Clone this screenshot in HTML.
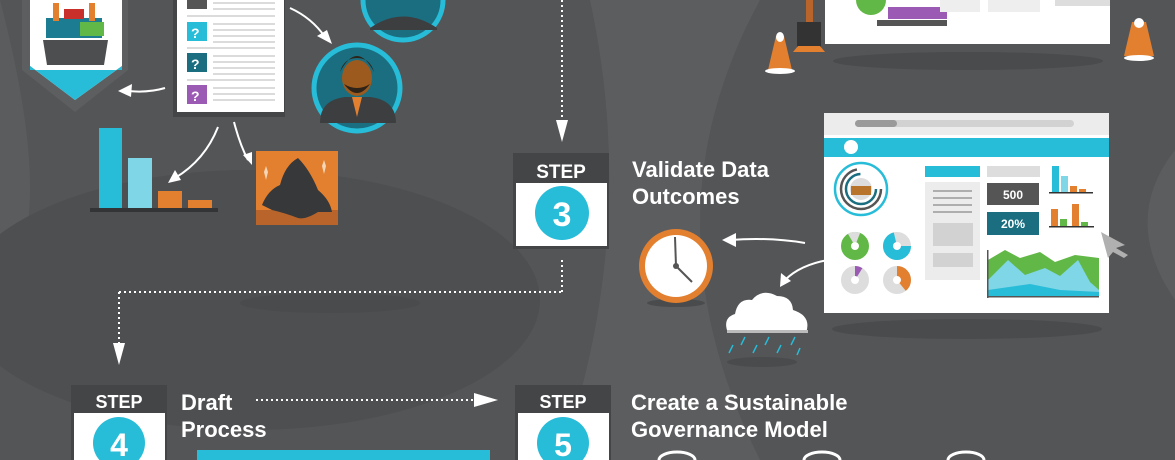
<!DOCTYPE html>
<html><head><meta charset="utf-8"><style>
html,body{margin:0;padding:0;width:1175px;height:460px;overflow:hidden;background:#545557}
svg{display:block;overflow:hidden}
text{font-family:"Liberation Sans",sans-serif;font-weight:bold}
</style></head><body>
<svg width="1175" height="460" viewBox="0 0 1175 460" xmlns="http://www.w3.org/2000/svg">
<rect width="1175" height="460" fill="#545557"/>
<path d="M0 0 L0 290 Q60 230 0 0Z" fill="#5b5c5e"/>
<ellipse cx="250" cy="300" rx="290" ry="130" fill="#4e4f51"/>
<path d="M590 0 Q640 230 560 460 L760 460 Q640 220 760 0Z" fill="#5c5d5f"/>
<path d="M1175 150 Q1120 220 1175 300Z" fill="#5c5d5f"/>
<ellipse cx="330" cy="303" rx="90" ry="10" fill="#4a4b4d"/>
<g stroke="#fff" stroke-width="2" stroke-dasharray="2 3" fill="none">
<line x1="562" y1="0" x2="562" y2="122"/>
<line x1="562" y1="260" x2="562" y2="292"/>
<line x1="119" y1="292" x2="562" y2="292"/>
<line x1="119" y1="292" x2="119" y2="345"/>
<line x1="256" y1="400" x2="475" y2="400"/>
</g>
<polygon points="556,120 568,120 562,142" fill="#fff"/>
<polygon points="113,343 125,343 119,365" fill="#fff"/>
<polygon points="474,393 474,407 498,400" fill="#fff"/>
<path d="M22 0 L128 0 L128 70 L75 112 L22 70Z" fill="#5d5e60"/>
<path d="M30 0 L122 0 L122 66 L75 100 L30 66Z" fill="#fff"/>
<path d="M30 70 L122 70 L122 66 L75 100 L30 66Z" fill="#27bcd8"/>
<rect x="46" y="18" width="56" height="20" fill="#1c7d92"/>
<rect x="64" y="9" width="20" height="10" fill="#c9302c"/>
<rect x="53" y="3" width="6" height="18" fill="#e3802f"/>
<rect x="89" y="3" width="6" height="18" fill="#e3802f"/>
<rect x="80" y="22" width="24" height="14" fill="#62b846"/>
<path d="M43 40 L108 40 L104 65 L47 65Z" fill="#4d4e50"/>
<rect x="173" y="0" width="112" height="117" fill="#444547"/>
<rect x="177" y="0" width="107" height="112" fill="#fff"/>
<rect x="187" y="0" width="20" height="9" fill="#555"/>
<rect x="187" y="22" width="20" height="19" fill="#27bcd8"/>
<rect x="187" y="53" width="20" height="19" fill="#1a6e80"/>
<rect x="187" y="85" width="20" height="19" fill="#9b5bb5"/>
<g fill="#fff" font-size="14"><text x="191" y="38">?</text><text x="191" y="69">?</text><text x="191" y="101">?</text></g>
<g stroke="#cfcfcf" stroke-width="1.5">
<line x1="213" y1="3" x2="275" y2="3"/><line x1="213" y1="9" x2="275" y2="9"/>
<line x1="187" y1="16" x2="275" y2="16"/>
<line x1="213" y1="24" x2="275" y2="24"/><line x1="213" y1="30" x2="275" y2="30"/><line x1="213" y1="36" x2="275" y2="36"/><line x1="213" y1="42" x2="275" y2="42"/>
<line x1="187" y1="48" x2="275" y2="48"/>
<line x1="213" y1="56" x2="275" y2="56"/><line x1="213" y1="62" x2="275" y2="62"/><line x1="213" y1="68" x2="275" y2="68"/><line x1="213" y1="74" x2="275" y2="74"/>
<line x1="187" y1="80" x2="275" y2="80"/>
<line x1="213" y1="88" x2="275" y2="88"/><line x1="213" y1="94" x2="275" y2="94"/><line x1="213" y1="100" x2="275" y2="100"/>
</g>
<g stroke="#fff" stroke-width="2" fill="none">
<path d="M165 88 Q148 93 128 91"/>
<path d="M290 8 Q312 18 325 37"/>
<path d="M218 127 Q205 160 175 178"/>
<path d="M234 122 Q240 145 248 160"/>
<path d="M805 243 Q770 237 730 240"/>
<path d="M828 260 Q800 265 785 280"/>
</g>
<g fill="#fff">
<polygon points="118,91 132,84 131,97"/>
<polygon points="332,44 317,36 327,30"/>
<polygon points="168,183 175,170 181,180"/>
<polygon points="252,165 243,155 252,152"/>
<polygon points="722,240 736,233 736,247"/>
<polygon points="780,287 781,273 791,281"/>
</g>
<circle cx="403" cy="0" r="40" fill="#1a6e80" stroke="#27bcd8" stroke-width="5"/>
<path d="M370 28 Q403 5 437 28 L437 30 L370 30Z" fill="#3d3e40"/>
<circle cx="357" cy="88" r="43" fill="#1a6e80" stroke="#27bcd8" stroke-width="5"/>
<path d="M320 123 Q320 100 345 97 L370 97 Q396 100 396 123Z" fill="#3d3e40"/>
<polygon points="352,97 362,97 357,117" fill="#e3802f"/>
<ellipse cx="357" cy="78" rx="15" ry="18" fill="#9c5a1e"/>
<path d="M340 72 Q357 40 374 72 Q370 58 357 58 Q344 58 340 72Z" fill="#2e2318"/>
<path d="M344 84 Q357 102 370 84 Q357 92 344 84Z" fill="#2e2318"/>
<rect x="99" y="128" width="23" height="80" fill="#27bcd8"/>
<rect x="128" y="158" width="24" height="50" fill="#7fd6e6"/>
<rect x="158" y="191" width="24" height="17" fill="#e3802f"/>
<rect x="188" y="200" width="24" height="8" fill="#e3802f"/>
<rect x="90" y="208" width="128" height="4" fill="#333436"/>
<rect x="256" y="151" width="82" height="74" fill="#e3802f"/>
<rect x="256" y="210" width="82" height="15" fill="#b8642a"/>
<path d="M262 205 Q268 190 280 185 Q285 165 298 158 Q310 170 318 190 Q330 200 332 212 L318 212 Q305 220 298 218 Q285 213 272 210Z" fill="#37383a"/>
<polygon points="264,172 266,166 268,172 266,180" fill="#f6d6b8"/>
<polygon points="322,166 324,160 326,166 324,174" fill="#f6d6b8"/>
<rect x="513" y="153" width="96" height="96" fill="#444547"/>
<rect x="516" y="183" width="91" height="63" fill="#fff"/>
<text x="561" y="178" font-size="19" fill="#fff" text-anchor="middle">STEP</text>
<circle cx="562" cy="213" r="27" fill="#27bcd8"/>
<text x="562" y="226" font-size="34" fill="#fff" text-anchor="middle">3</text>
<text x="632" y="177" font-size="22" fill="#fff">Validate Data</text>
<text x="632" y="204" font-size="22" fill="#fff">Outcomes</text>
<ellipse cx="968" cy="61" rx="135" ry="9" fill="#4a4b4d"/>
<rect x="825" y="0" width="285" height="44" fill="#fff"/>
<rect x="888" y="7" width="59" height="12" fill="#9b5bb5"/>
<rect x="877" y="20" width="70" height="6" fill="#555"/>
<circle cx="871" cy="0" r="15" fill="#62b846"/>
<rect x="940" y="0" width="40" height="12" fill="#eee"/>
<rect x="988" y="0" width="52" height="12" fill="#eee"/>
<rect x="1055" y="0" width="55" height="6" fill="#ddd"/>
<rect x="797" y="22" width="24" height="30" fill="#333"/>
<rect x="806" y="0" width="7" height="22" fill="#b8642a"/>
<polygon points="793,52 825,52 820,46 798,46" fill="#e3802f"/>
<polygon points="768,70 792,70 784,36 776,36" fill="#e3802f"/>
<ellipse cx="780" cy="71" rx="15" ry="3" fill="#fff"/>
<ellipse cx="780" cy="37" rx="4" ry="5" fill="#fff"/>
<polygon points="1124,56 1154,56 1146,22 1132,22" fill="#e3802f"/>
<ellipse cx="1139" cy="58" rx="15" ry="3" fill="#fff"/>
<ellipse cx="1139" cy="23" rx="5" ry="5" fill="#fff"/>
<ellipse cx="967" cy="329" rx="135" ry="10" fill="#4a4b4d"/>
<rect x="824" y="113" width="285" height="200" fill="#fff"/>
<rect x="824" y="113" width="285" height="22" fill="#ececec"/>
<rect x="855" y="120" width="219" height="7" rx="3.5" fill="#d2d2d2"/>
<rect x="855" y="120" width="42" height="7" rx="3.5" fill="#9a9a9a"/>
<rect x="824" y="138" width="285" height="19" fill="#27bcd8"/>
<circle cx="851" cy="147" r="7" fill="#fff"/>
<circle cx="861" cy="189" r="26" fill="none" stroke="#27bcd8" stroke-width="2.5"/>
<circle cx="861" cy="189" r="20" fill="none" stroke="#555" stroke-width="2.5" stroke-dasharray="90 40"/>
<circle cx="861" cy="189" r="15" fill="none" stroke="#1a6e80" stroke-width="2.5" stroke-dasharray="70 30"/>
<circle cx="861" cy="189" r="11" fill="#ddd"/>
<rect x="851" y="186" width="20" height="9" fill="#b8742a"/>
<g fill="none" stroke-width="10">
<circle cx="855" cy="246" r="9" stroke="#62b846"/>
<circle cx="897" cy="246" r="9" stroke="#ddd"/>
<circle cx="897" cy="246" r="9" stroke="#27bcd8" stroke-dasharray="40 60"/>
<circle cx="855" cy="280" r="9" stroke="#ddd"/>
<circle cx="897" cy="280" r="9" stroke="#ddd"/>
<circle cx="897" cy="280" r="9" stroke="#e3802f" stroke-dasharray="22 60" transform="rotate(-90 897 280)"/>
<circle cx="855" cy="280" r="9" stroke="#9b5bb5" stroke-dasharray="5 60" transform="rotate(-90 855 280)"/>
</g>
<circle cx="855" cy="246" r="9" fill="none" stroke="#ddd" stroke-width="10" stroke-dasharray="8 60" transform="rotate(-120 855 246)"/>
<rect x="925" y="166" width="55" height="11" fill="#27bcd8"/>
<rect x="925" y="182" width="55" height="98" fill="#ececec"/>
<g stroke="#999" stroke-width="1.5"><line x1="933" y1="191" x2="972" y2="191"/><line x1="933" y1="198" x2="972" y2="198"/><line x1="933" y1="205" x2="972" y2="205"/><line x1="933" y1="212" x2="972" y2="212"/></g>
<rect x="933" y="223" width="40" height="23" fill="#d2d2d2"/>
<rect x="933" y="253" width="40" height="14" fill="#d2d2d2"/>
<rect x="987" y="166" width="53" height="11" fill="#ddd"/>
<rect x="987" y="183" width="52" height="22" fill="#555"/>
<text x="1013" y="199" font-size="12" fill="#fff" text-anchor="middle">500</text>
<rect x="987" y="212" width="52" height="23" fill="#1a6e80"/>
<text x="1013" y="228" font-size="12" fill="#fff" text-anchor="middle">20%</text>
<rect x="1052" y="166" width="7" height="26" fill="#27bcd8"/>
<rect x="1061" y="176" width="7" height="16" fill="#7fd6e6"/>
<rect x="1070" y="186" width="7" height="6" fill="#e3802f"/>
<rect x="1079" y="189" width="7" height="3" fill="#e3802f"/>
<rect x="1049" y="192" width="44" height="1.5" fill="#333"/>
<rect x="1051" y="209" width="7" height="17" fill="#e3802f"/>
<rect x="1060" y="219" width="7" height="7" fill="#62b846"/>
<rect x="1072" y="204" width="7" height="22" fill="#e3802f"/>
<rect x="1081" y="222" width="7" height="4" fill="#62b846"/>
<rect x="1049" y="226" width="45" height="1.5" fill="#333"/>
<polygon points="988,260 1005,250 1020,258 1040,252 1055,262 1075,255 1099,258 1099,297 988,297" fill="#62b846"/>
<polygon points="988,280 1008,260 1025,275 1045,268 1060,276 1078,260 1090,282 1099,290 1099,297 988,297" fill="#7fd6e6"/>
<polygon points="988,290 1030,284 1060,290 1099,292 1099,297 988,297" fill="#27bcd8"/>
<rect x="987" y="250" width="1.5" height="48" fill="#555"/><rect x="987" y="296" width="112" height="1.5" fill="#555"/>
<polygon points="1101,232 1125,245 1116,248 1128,255 1124,258 1113,252 1108,258Z" fill="#b0b0b0"/>
<ellipse cx="676" cy="303" rx="29" ry="4" fill="#4a4b4d"/>
<circle cx="676" cy="266" r="37" fill="#e3802f"/>
<circle cx="676" cy="266" r="31" fill="#fff"/>
<line x1="676" y1="266" x2="675" y2="237" stroke="#555" stroke-width="2"/>
<line x1="676" y1="266" x2="692" y2="282" stroke="#555" stroke-width="2"/>
<circle cx="676" cy="266" r="3" fill="#555"/>
<ellipse cx="762" cy="362" rx="35" ry="5" fill="#4a4b4d"/>
<path d="M728 333 Q722 318 735 314 Q738 298 752 300 Q762 288 777 296 Q792 296 793 310 Q812 316 806 333Z" fill="#fff"/>
<rect x="727" y="330" width="81" height="3" fill="#bbb"/>
<g stroke="#27bcd8" stroke-width="1.5">
<line x1="733" y1="345" x2="729" y2="353"/><line x1="745" y1="337" x2="741" y2="345"/><line x1="757" y1="345" x2="753" y2="353"/><line x1="769" y1="337" x2="765" y2="345"/><line x1="781" y1="345" x2="777" y2="353"/><line x1="795" y1="337" x2="791" y2="345"/><line x1="800" y1="348" x2="797" y2="355"/>
</g>
<rect x="71" y="385" width="96" height="75" fill="#444547"/>
<rect x="74" y="413" width="91" height="47" fill="#fff"/>
<text x="119" y="408" font-size="18" fill="#fff" text-anchor="middle">STEP</text>
<circle cx="119" cy="443" r="26" fill="#27bcd8"/>
<text x="119" y="456" font-size="32" fill="#fff" text-anchor="middle">4</text>
<text x="181" y="410" font-size="22" fill="#fff">Draft</text>
<text x="181" y="437" font-size="22" fill="#fff">Process</text>
<rect x="197" y="450" width="293" height="10" fill="#27bcd8"/>
<rect x="515" y="385" width="96" height="75" fill="#444547"/>
<rect x="518" y="413" width="91" height="47" fill="#fff"/>
<text x="563" y="408" font-size="18" fill="#fff" text-anchor="middle">STEP</text>
<circle cx="563" cy="443" r="26" fill="#27bcd8"/>
<text x="563" y="456" font-size="32" fill="#fff" text-anchor="middle">5</text>
<text x="631" y="410" font-size="22" fill="#fff">Create a Sustainable</text>
<text x="631" y="437" font-size="22" fill="#fff">Governance Model</text>
<path d="M659 460 A18 8 0 0 1 695 460" fill="none" stroke="#fff" stroke-width="3"/>
<path d="M804 460 A18 8 0 0 1 840 460" fill="none" stroke="#fff" stroke-width="3"/>
<path d="M948 460 A18 8 0 0 1 984 460" fill="none" stroke="#fff" stroke-width="3"/>
</svg>
</body></html>
